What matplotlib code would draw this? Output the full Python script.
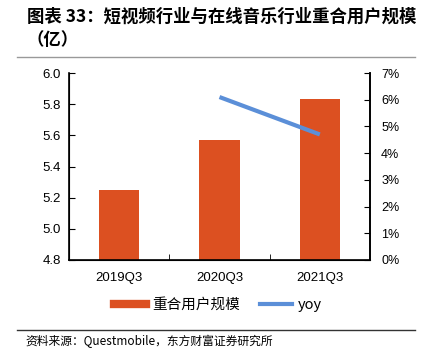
import matplotlib.pyplot as plt
import numpy as np
from matplotlib.lines import Line2D

plt.rcParams['font.family'] = ['Noto Sans CJK SC', 'DejaVu Sans']

# data
quarters = ['2019Q3', '2020Q3', '2021Q3']
users = [5.25, 5.57, 5.83]          # 重合用户规模（亿）
yoy_x = [1, 2]
yoy = [6.1, 4.7]                   # %

bar_color = '#DC5021'
line_color = '#5B8FD8'

fig = plt.figure(figsize=(4.22, 3.61), dpi=100)
W, H = 422, 361
# axes box in pixels: left 69, right 370, top 73, bottom 260
ax = fig.add_axes([69 / W, 1 - 260 / H, (370 - 69) / W, (260 - 73) / H])

x = np.arange(len(quarters))
ax.bar(x, users, width=0.4, color=bar_color, label='重合用户规模', zorder=2)
ax.set_ylim(4.8, 6.0)
ax.set_yticks(np.arange(4.8, 6.01, 0.2))
ax.set_yticklabels(['%.1f' % v for v in np.arange(4.8, 6.01, 0.2)], fontsize=9.5,
                   family=['Liberation Sans'])
ax.set_xlim(-0.5, 2.5)
ax.set_xticks(x)
ax.set_xticklabels(quarters, fontsize=9.5, family=['Liberation Sans'])
ax.set_xticks([0.5, 1.5], minor=True)
ax.tick_params(axis='x', which='major', length=0, pad=9)
ax.tick_params(axis='x', which='minor', direction='in', length=4)
ax.tick_params(axis='y', direction='in', length=4, pad=6)
ax.spines['top'].set_visible(False)
for s in ['left', 'bottom', 'right']:
    ax.spines[s].set_linewidth(1.2)

ax2 = ax.twinx()
ax2.plot(yoy_x, yoy, color=line_color, lw=3, label='yoy', solid_capstyle='butt', zorder=3)
ax2.set_ylim(0, 7)
ax2.set_yticks(range(0, 8))
ax2.set_yticklabels(['%d%%' % v for v in range(0, 8)], fontsize=9, family=['Liberation Sans'])
ax2.tick_params(axis='y', direction='in', length=4, pad=8)
ax2.spines['top'].set_visible(False)
ax2.spines['right'].set_linewidth(1.2)

# legend
h1, l1 = ax.get_legend_handles_labels()
h2, l2 = ax2.get_legend_handles_labels()
handles = [Line2D([0], [0], color=bar_color, lw=6), Line2D([0], [0], color=line_color, lw=3)]
fig.legend(handles, l1 + l2, loc='center', bbox_to_anchor=(218 / W, 1 - 305 / H),
           ncol=2, frameon=False, fontsize=10.5, handlelength=2.2, columnspacing=1.4,
           handletextpad=0.4)

# title
fig.text(27 / W, 1 - 17 / H, '图表 33：短视频行业与在线音乐行业重合用户规模', fontsize=12.5,
         fontweight='bold', va='center', ha='left')
fig.text(27 / W, 1 - 40 / H, '（亿）', fontsize=12.5, fontweight='bold', va='center', ha='left')
fig.add_artist(Line2D([17 / W, 415 / W], [1 - 57 / H, 1 - 57 / H], color='#999999', lw=1))

# source
fig.add_artist(Line2D([17 / W, 415 / W], [1 - 330 / H, 1 - 330 / H], color='#333333', lw=1))
fig.text(25 / W, 1 - 341 / H, '资料来源：Questmobile，东方财富证券研究所', fontsize=8.5,
         va='center', ha='left')

fig.savefig('out.png', dpi=100)
